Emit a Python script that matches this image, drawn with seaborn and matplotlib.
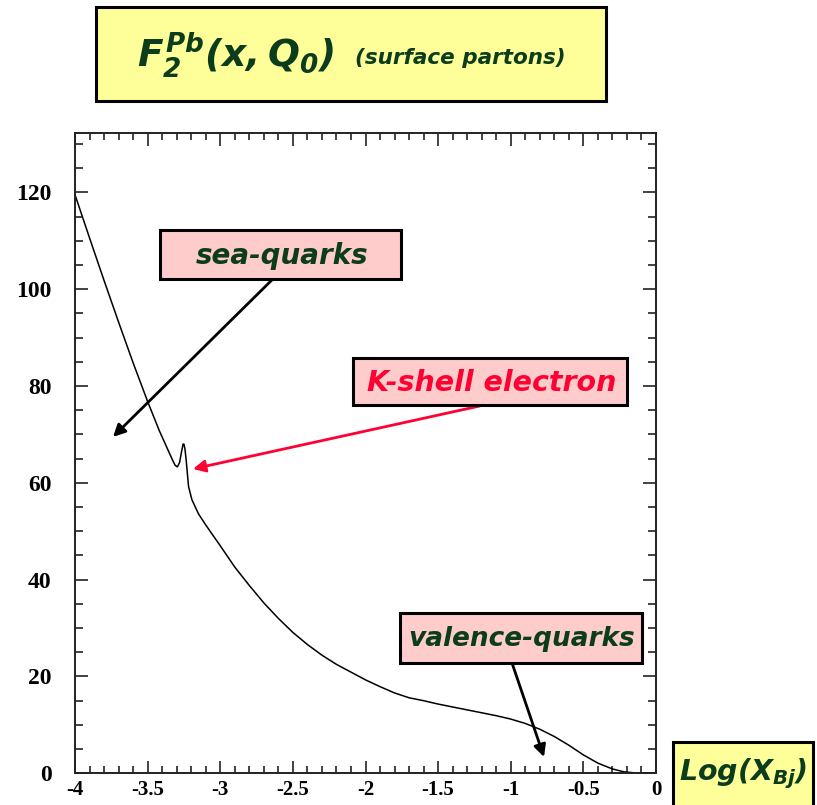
import matplotlib
matplotlib.use("Agg")
import matplotlib.pyplot as plt
import matplotlib.patches as mpatches
from matplotlib.ticker import MultipleLocator
import seaborn as sns
import pandas as pd

# F2 structure function of Pb at the starting scale, versus log10(x_Bj)
log_x = [-4.0, -3.9, -3.8, -3.7, -3.6, -3.5, -3.42, -3.36, -3.33, -3.31, -3.295,
         -3.28, -3.266, -3.256, -3.25, -3.243, -3.234, -3.225, -3.218, -3.195,
         -3.15, -3.1, -3.0, -2.9, -2.8, -2.7, -2.6, -2.5, -2.4, -2.3, -2.2, -2.1,
         -2.0, -1.9, -1.8, -1.7, -1.6, -1.5, -1.4, -1.3, -1.2, -1.1, -1.0, -0.9,
         -0.8, -0.7, -0.6, -0.5, -0.4, -0.3, -0.22, -0.15, -0.09]
f2_values = [119.5, 110.6, 101.8, 93.2, 84.8, 76.8, 70.8, 66.8, 64.8, 63.6, 63.3,
             64.2, 66.5, 68.0, 68.0, 67.0, 64.5, 61.5, 59.2, 56.5,
             53.6, 51.3, 47.0, 42.6, 38.8, 35.2, 32.0, 29.1, 26.6, 24.4, 22.5, 20.9,
             19.3, 17.9, 16.6, 15.6, 15.0, 14.3, 13.7, 13.1, 12.5, 11.9, 11.2, 10.3,
             9.1, 7.6, 5.8, 3.8, 2.1, 0.9, 0.3, 0.1, 0.1]

x_ticks = [-4, -3.5, -3, -2.5, -2, -1.5, -1, -0.5, 0]
x_tick_labels = ["-4", "-3.5", "-3", "-2.5", "-2", "-1.5", "-1", "-0.5", "0"]
y_ticks = [0, 20, 40, 60, 80, 100, 120]
y_tick_labels = ["0", "20", "40", "60", "80", "100", "120"]

title_main = r"$F_2^{Pb}(x,Q_0)$"
title_sub = "(surface partons)"
label_sea = "sea-quarks"
label_kshell = "K-shell electron"
label_valence = "valence-quarks"
x_axis_label = r"$Log(X_{Bj})$"

sns.set_theme(style="ticks")
plt.rcParams["font.family"] = ["DejaVu Sans"]
plt.rcParams["mathtext.fontset"] = "custom"
plt.rcParams["mathtext.it"] = "DejaVu Sans:bold:italic"
plt.rcParams["mathtext.rm"] = "DejaVu Sans:bold:italic"
plt.rcParams["mathtext.bf"] = "DejaVu Sans:bold:italic"

GREEN = "#0b3d1c"
RED = "#ff0033"
PINK = "#ffcccc"
YELLOW = "#ffff99"

W, H = 817, 805
fig = plt.figure(figsize=(W / 100, H / 100), dpi=100)
fig.patch.set_facecolor("white")


def px(x, y):
    """Pixel position (top-left origin) to figure fraction."""
    return x / W, 1 - y / H


ax_left, ax_right, ax_top, ax_bottom = 75, 656, 133.3, 773.3
ax = fig.add_axes([ax_left / W, 1 - ax_bottom / H,
                   (ax_right - ax_left) / W, (ax_bottom - ax_top) / H])
ax.set_facecolor("white")

df = pd.DataFrame({"logx": log_x, "f2": f2_values})
sns.lineplot(data=df, x="logx", y="f2", ax=ax, color="black", linewidth=1.1,
             estimator=None, sort=False)

ax.set_xlim(-4, 0)
ax.set_ylim(0, 132.2)
ax.set_xlabel("")
ax.set_ylabel("")
ax.set_xticks(x_ticks)
ax.set_xticklabels(x_tick_labels)
ax.set_yticks(y_ticks)
ax.set_yticklabels(y_tick_labels)
ax.xaxis.set_minor_locator(MultipleLocator(0.1))
ax.yaxis.set_minor_locator(MultipleLocator(5))

for side in ["left", "right", "top", "bottom"]:
    ax.spines[side].set_visible(True)
    ax.spines[side].set_color("#222222")
    ax.spines[side].set_linewidth(1.4)

ax.tick_params(axis="both", which="both", direction="in", top=True, right=True,
               color="#222222", width=1.2)
ax.tick_params(axis="x", which="major", length=9, pad=5)
ax.tick_params(axis="x", which="minor", length=5)
ax.tick_params(axis="y", which="major", length=9.5, pad=17)
ax.tick_params(axis="y", which="minor", length=5.5)
for lab in ax.get_xticklabels() + ax.get_yticklabels():
    lab.set_fontfamily("Liberation Serif")
    lab.set_fontweight("bold")
    lab.set_color("black")
for lab in ax.get_yticklabels():
    lab.set_fontsize(17)
for lab in ax.get_xticklabels():
    lab.set_fontsize(15)


def fig_box(x0, y0, x1, y1, face):
    fx0, fy1 = px(x0, y0)
    fx1, fy0 = px(x1, y1)
    rect = mpatches.Rectangle((fx0, fy0), fx1 - fx0, fy1 - fy0,
                              transform=fig.transFigure, facecolor=face,
                              edgecolor="black", linewidth=2.2, zorder=5,
                              clip_on=False)
    fig.add_artist(rect)


def fig_label(x, y, s, color, size, ha="center", va="center"):
    fx, fy = px(x, y)
    fig.text(fx, fy, s, color=color, fontsize=size, ha=ha, va=va,
             fontweight="bold", fontstyle="italic", zorder=6)


# title box
fig_box(96, 7, 606, 101, YELLOW)
fig_label(137, 67, title_main, GREEN, 27, ha="left", va="baseline")
fig_label(355, 64, title_sub, GREEN, 15.5, ha="left", va="baseline")

# axis label box in the lower right corner
fig_box(673, 742, 813, 812, YELLOW)
fig_label(743, 774, x_axis_label, GREEN, 20.5)


def arrow(start, tip, color):
    ax.annotate("", xy=tip, xytext=start, xycoords="data", textcoords="data",
                arrowprops=dict(arrowstyle="-|>", color=color, lw=2.0,
                                mutation_scale=18, shrinkA=0, shrinkB=0),
                zorder=4)


def to_data(x, y):
    return -4 + (x - ax_left) / 145.25, (ax_bottom - y) / 4.84


# sea-quarks
arrow(to_data(272, 280), to_data(113, 437), "black")
fig_box(160, 230, 401, 279, PINK)
fig_label(282, 256, label_sea, GREEN, 20)

# K-shell electron
arrow(to_data(480, 406), to_data(193, 469), RED)
fig_box(353, 358, 627, 405, PINK)
fig_label(492, 383, label_kshell, RED, 20.5)

# valence-quarks
arrow(to_data(512, 663), to_data(544, 757), "black")
fig_box(400, 613, 642, 663, PINK)
fig_label(522, 639, label_valence, GREEN, 19)

fig.savefig("out.png", dpi=100)
